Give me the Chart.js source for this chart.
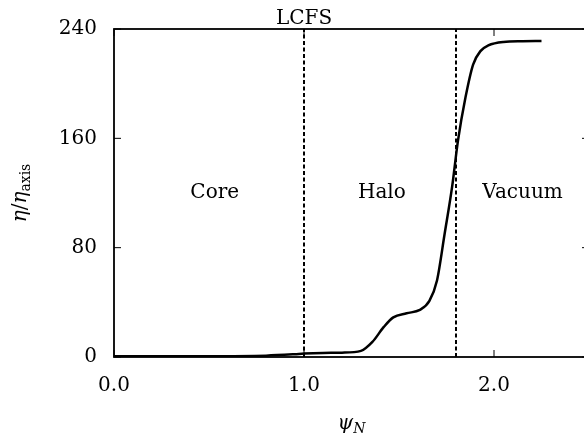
<!DOCTYPE html>
<html>
<head>
<meta charset="utf-8">
<script src="https://cdn.jsdelivr.net/npm/chart.js@4"></script>
<style>
  html, body { margin: 0; padding: 0; background: #fff; overflow: hidden; }
  #wrap { width: 600px; height: 435px; }
</style>
</head>
<body>
<div id="wrap"><canvas id="etaChart"></canvas></div>
<script>
// normalized flux and resistivity profile
const psi = [0, 0.4, 0.8, 0.95, 1.0, 1.1, 1.2, 1.3, 1.36, 1.42, 1.47, 1.54, 1.61, 1.66, 1.70, 1.74, 1.78, 1.81, 1.85, 1.89, 1.93, 1.97, 2.05, 2.15, 2.25];
const eta = [0.5, 0.6, 1, 2, 2.5, 3, 3.2, 4.5, 11, 22, 29, 32, 34.5, 41, 56, 90, 125, 158, 190, 214, 224, 228, 230.5, 231, 231.2];

// region boundaries and labels
const boundaries = [1.0, 1.8];
const regionNames = ["Core", "Halo", "Vacuum"];
const regionX = [0.53, 1.41, 2.15];
const regionY = 120;

const xTicks = [0, 1, 2];
const yTicks = [0, 80, 160, 240];

const serif = "'DejaVu Serif', 'Liberation Serif', serif";

const curve = psi.map((p, i) => ({ x: p, y: eta[i] }));
const dashSets = boundaries.map(b => ({
  data: [{ x: b, y: 0 }, { x: b, y: 240 }],
  borderColor: "#000",
  borderWidth: 2,
  borderDash: [4, 2.5],
  pointRadius: 0,
  fill: false
}));

// frame, inward ticks and text labels
const decor = {
  id: "decor",
  afterDraw(chart) {
    const c = chart.ctx;
    const a = chart.chartArea;
    const xs = chart.scales.x;
    const ys = chart.scales.y;
    c.save();
    c.strokeStyle = "#000";
    c.lineWidth = 1.8;
    c.strokeRect(a.left, a.top, a.right - a.left, a.bottom - a.top);

    c.lineWidth = 1;
    xTicks.forEach(t => {
      const px = xs.getPixelForValue(t);
      c.beginPath();
      c.moveTo(px, a.bottom); c.lineTo(px, a.bottom - 7);
      c.moveTo(px, a.top); c.lineTo(px, a.top + 7);
      c.stroke();
    });
    yTicks.forEach(t => {
      const py = ys.getPixelForValue(t);
      c.beginPath();
      c.moveTo(a.left, py); c.lineTo(a.left + 7, py);
      c.moveTo(a.right, py); c.lineTo(a.right - 7, py);
      c.stroke();
    });

    c.fillStyle = "#000";
    c.font = "20px " + serif;
    c.textAlign = "center";
    c.textBaseline = "middle";
    regionNames.forEach((n, i) => {
      c.fillText(n, xs.getPixelForValue(regionX[i]), ys.getPixelForValue(regionY));
    });
    c.textBaseline = "alphabetic";
    c.fillText("LCFS", xs.getPixelForValue(boundaries[0]), a.top - 5);

    // x title: psi_N
    const cx = (a.left + a.right) / 2;
    c.font = "italic 20px " + serif;
    c.textAlign = "left";
    const w1 = c.measureText("\u03c8").width;
    c.font = "italic 14px " + serif;
    const w2 = c.measureText("N").width;
    let x0 = cx - (w1 + w2) / 2;
    c.font = "italic 20px " + serif;
    c.fillText("\u03c8", x0, 429);
    c.font = "italic 14px " + serif;
    c.fillText("N", x0 + w1, 433);

    // y title: eta / eta_axis
    c.translate(20, (a.top + a.bottom) / 2);
    c.rotate(-Math.PI / 2);
    c.font = "italic 20px " + serif;
    const e = c.measureText("\u03b7").width;
    c.font = "20px " + serif;
    const s = c.measureText("/").width;
    c.font = "14px " + serif;
    const ax = c.measureText("axis").width;
    x0 = -(2 * e + s + ax) / 2;
    c.font = "italic 20px " + serif;
    c.fillText("\u03b7", x0, 6);
    c.font = "20px " + serif;
    c.fillText("/", x0 + e, 6);
    c.font = "italic 20px " + serif;
    c.fillText("\u03b7", x0 + e + s, 6);
    c.font = "14px " + serif;
    c.fillText("axis", x0 + 2 * e + s, 10);
    c.restore();
  }
};

new Chart(document.getElementById("etaChart"), {
  type: "line",
  data: {
    datasets: [{
      data: curve,
      borderColor: "#000",
      borderWidth: 2.5,
      pointRadius: 0,
      cubicInterpolationMode: "monotone",
      fill: false
    }].concat(dashSets)
  },
  options: {
    responsive: true,
    maintainAspectRatio: false,
    animation: false,
    layout: { padding: { top: 28, right: 11, left: 0, bottom: 0 } },
    plugins: { legend: { display: false }, tooltip: { enabled: false } },
    scales: {
      x: {
        type: "linear",
        min: 0, max: 2.5,
        border: { display: false },
        grid: { display: false, drawTicks: false },
        afterBuildTicks: s => { s.ticks = xTicks.map(v => ({ value: v })); },
        afterFit: s => { s.height = 78; },
        ticks: {
          padding: 17,
          color: "#000",
          font: { family: serif, size: 20 },
          callback: v => v.toFixed(1)
        }
      },
      y: {
        min: 0, max: 240,
        border: { display: false },
        grid: { display: false, drawTicks: false },
        afterBuildTicks: s => { s.ticks = yTicks.map(v => ({ value: v })); },
        afterFit: s => { s.width = 114; },
        ticks: {
          padding: 17,
          color: "#000",
          font: { family: serif, size: 20 }
        }
      }
    }
  },
  plugins: [decor]
});
</script>
</body>
</html>
